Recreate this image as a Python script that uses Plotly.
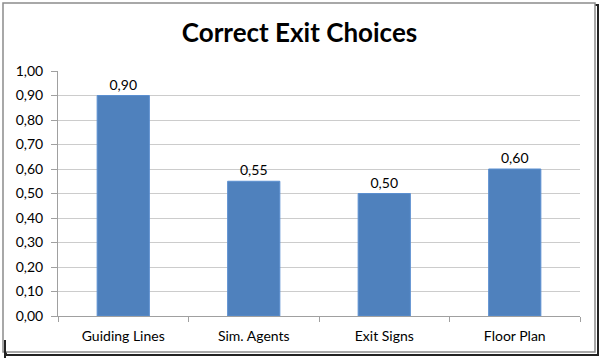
import plotly.graph_objects as go

categories = ["Guiding Lines", "Sim. Agents", "Exit Signs", "Floor Plan"]
values = [0.90, 0.55, 0.50, 0.60]
title = "Correct Exit Choices"

W, H = 599, 360
L, R, T, B = 58, 19, 71, 44
pw, ph = W - L - R, H - T - B
FONT = "Lato, Carlito, sans-serif"

def px_x(x):
    return (x - L) / pw

def px_y(y):
    return (H - B - y) / ph

fig = go.Figure()
fig.add_trace(go.Bar(
    x=categories, y=values,
    marker=dict(color="#4F81BD", line=dict(color="#5B8FD0", width=1)),
    width=0.4,
    texttemplate="%{y:.2f}", textposition="outside",
    textfont=dict(family=FONT, size=14, color="#000"),
    cliponaxis=False,
))

shapes = [
    # shadow
    dict(type="rect", xref="paper", yref="paper",
         x0=px_x(6), x1=px_x(598), y0=px_y(355), y1=px_y(5),
         line=dict(color="#222", width=2), fillcolor="rgba(0,0,0,0)", layer="below"),
    # border
    dict(type="rect", xref="paper", yref="paper",
         x0=px_x(3), x1=px_x(595), y0=px_y(352), y1=px_y(3),
         line=dict(color="#8c8c8c", width=1.5), fillcolor="white", layer="below"),
    # small mark bottom-left
    dict(type="line", xref="paper", yref="paper",
         x0=px_x(5), x1=px_x(5), y0=px_y(340), y1=px_y(358),
         line=dict(color="#222", width=2), layer="below"),
]
fig.update_layout(
    width=W, height=H,
    margin=dict(l=L, r=R, t=T, b=B, autoexpand=False),
    paper_bgcolor="white", plot_bgcolor="rgba(0,0,0,0)",
    separators=",.",
    showlegend=False,
    title=dict(text="<b>" + title + "</b>", x=0.5, xanchor="center", y=1 - 33 / H, yanchor="middle",
               font=dict(family=FONT, size=26, color="#000")),
    shapes=shapes,
    bargap=0.6,
)
fig.update_yaxes(range=[0, 1.0], dtick=0.1, tickformat=".2f", automargin=False,
                 showgrid=True, gridcolor="#cccccc", gridwidth=1,
                 showline=True, linecolor="#a0a0a0", ticks="outside", ticklen=6, tickcolor="#a0a0a0",
                 ticklabelstandoff=5,
                 tickfont=dict(family=FONT, size=14, color="#000"),
                 zeroline=False)
fig.update_xaxes(showline=True, linecolor="#a0a0a0", ticks="outside", ticklen=5, tickcolor="#a0a0a0",
                 tickson="boundaries", automargin=False, ticklabelstandoff=7,
                 tickfont=dict(family=FONT, size=14, color="#000"))

fig.write_html("out.html", config={"displayModeBar": False},
               post_script="document.body.style.margin='0';")
